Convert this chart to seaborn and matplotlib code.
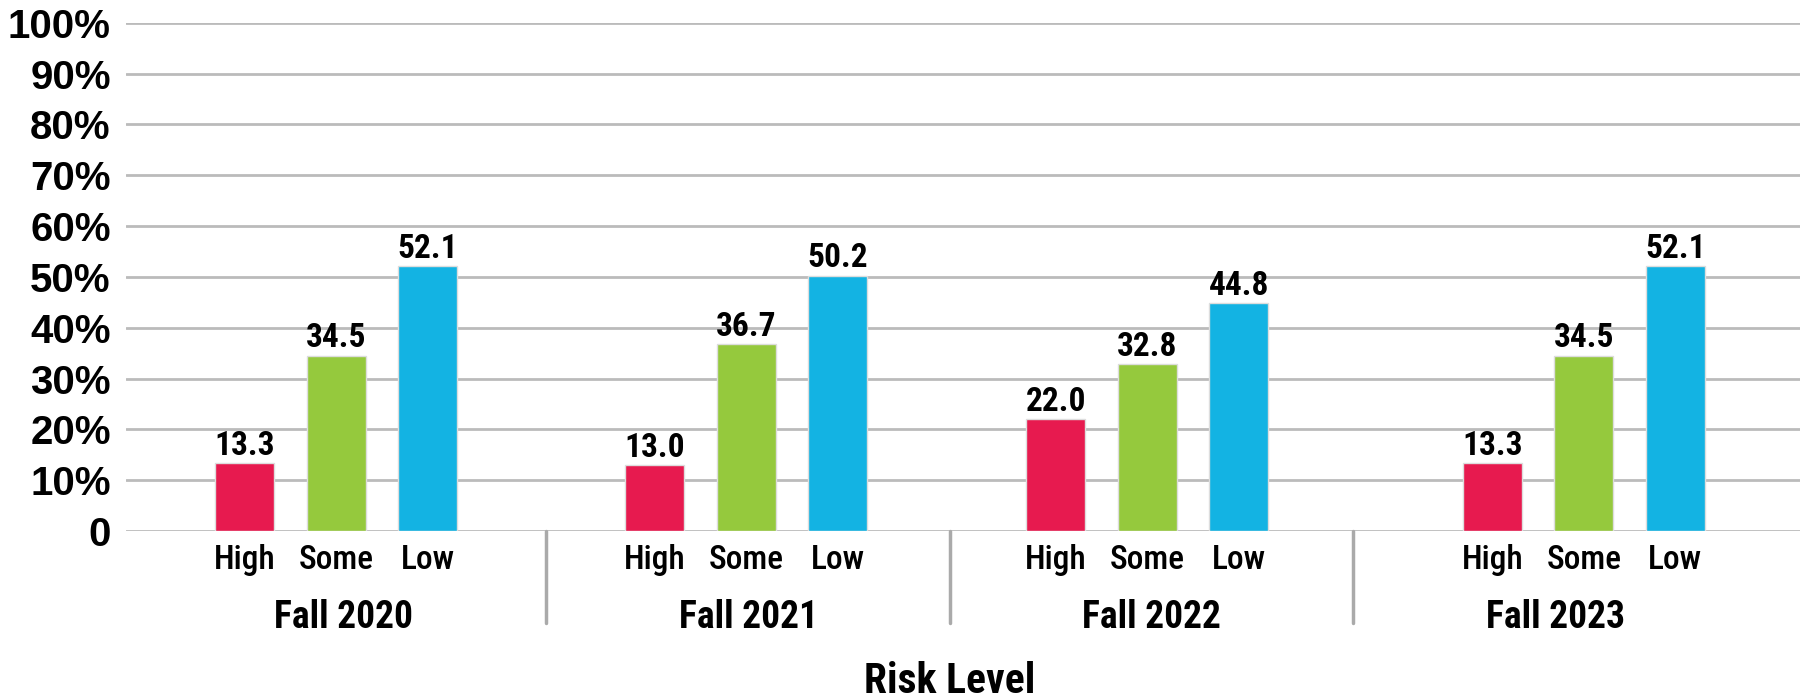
import pandas as pd
import seaborn as sns
import matplotlib.pyplot as plt
from matplotlib import font_manager

# values
periods = ['Fall 2020', 'Fall 2021', 'Fall 2022', 'Fall 2023']
risk_levels = ['High', 'Some', 'Low']
high = [13.3, 13.0, 22.0, 13.3]
some = [34.5, 36.7, 32.8, 34.5]
low = [52.1, 50.2, 44.8, 52.1]
y_ticks = [0, 10, 20, 30, 40, 50, 60, 70, 80, 90, 100]
y_tick_labels = ['0'] + [f'{t}%' for t in y_ticks[1:]]
colors = ['#E71A4F', '#95C93D', '#13B3E3']

# layout: the original's groups are not quite evenly spaced
group_pos = [0, 0.986, 1.95, 3.0]
label_pos = [0.018, 0.99, 1.961, 2.931]
divider_pos = [0.504, 1.476, 2.446]

rows = []
for i, p in enumerate(periods):
    for r, vals in zip(risk_levels, [high, some, low]):
        rows.append({'pos': group_pos[i], 'risk': r, 'value': vals[i]})
df = pd.DataFrame(rows)

sns.set_style('white')
installed = {f.name for f in font_manager.fontManager.ttflist}
# prefer a condensed face, fall back to the Arial-like one
narrow = next((f for f in ['Roboto Condensed', 'Liberation Sans Narrow', 'Open Sans Condensed',
                           'Liberation Sans'] if f in installed), 'DejaVu Sans')
plt.rcParams['font.family'] = [narrow, 'DejaVu Sans']
plt.rcParams['text.color'] = 'black'
plt.rcParams['ytick.color'] = 'black'

fig = plt.figure(figsize=(18.06, 7), dpi=100)
ax = fig.add_axes([0.0698, 0.2414, 0.9269, 0.7262])

sns.barplot(data=df, x='pos', y='value', hue='risk', hue_order=risk_levels,
            palette=colors, saturation=1, width=0.685, gap=0.355, legend=False,
            native_scale=True, edgecolor='#dddddd', linewidth=1, ax=ax)

ax.set_ylim(0, 100)
ax.set_xlim(-0.506, 3.52)
ax.set_yticks(y_ticks)
ax.set_yticklabels(y_tick_labels, fontsize=29, fontweight='bold',
                   family=['Liberation Sans', 'DejaVu Sans'])
ax.tick_params(axis='y', length=0, pad=11, labelcolor='black')
ax.tick_params(axis='x', length=0)
ax.set_xticks([])
ax.set_xlabel('')
ax.set_ylabel('')
ax.yaxis.grid(True, color='#bbbbbb', linewidth=2)
ax.set_axisbelow(True)
for s in ax.spines.values():
    s.set_visible(False)

# value labels on the bars
for cont in ax.containers:
    ax.bar_label(cont, fmt='%.1f', fontsize=24, fontweight='bold', padding=1, color='black')

# sub-category labels below each bar
trans = ax.get_xaxis_transform()
for cont, r in zip(ax.containers, risk_levels):
    for bar in cont:
        cx = bar.get_x() + bar.get_width() / 2
        ax.text(cx, -0.057, r, transform=trans, ha='center', va='center', fontsize=24,
                fontweight='medium', color='black')

# group labels and dividers
for xp, p in zip(label_pos, periods):
    ax.text(xp, -0.171, p, transform=trans, ha='center', va='center', fontsize=27,
            fontweight='bold', color='black')
for xd in divider_pos:
    ax.plot([xd, xd], [0, -0.181], transform=trans, color='#aaaaaa', linewidth=2.5, clip_on=False)

fig.text(0.526, 0.026, 'Risk Level', ha='center', va='center', fontsize=30,
         fontweight='bold', color='black')

fig.savefig('out.png', dpi=100)
